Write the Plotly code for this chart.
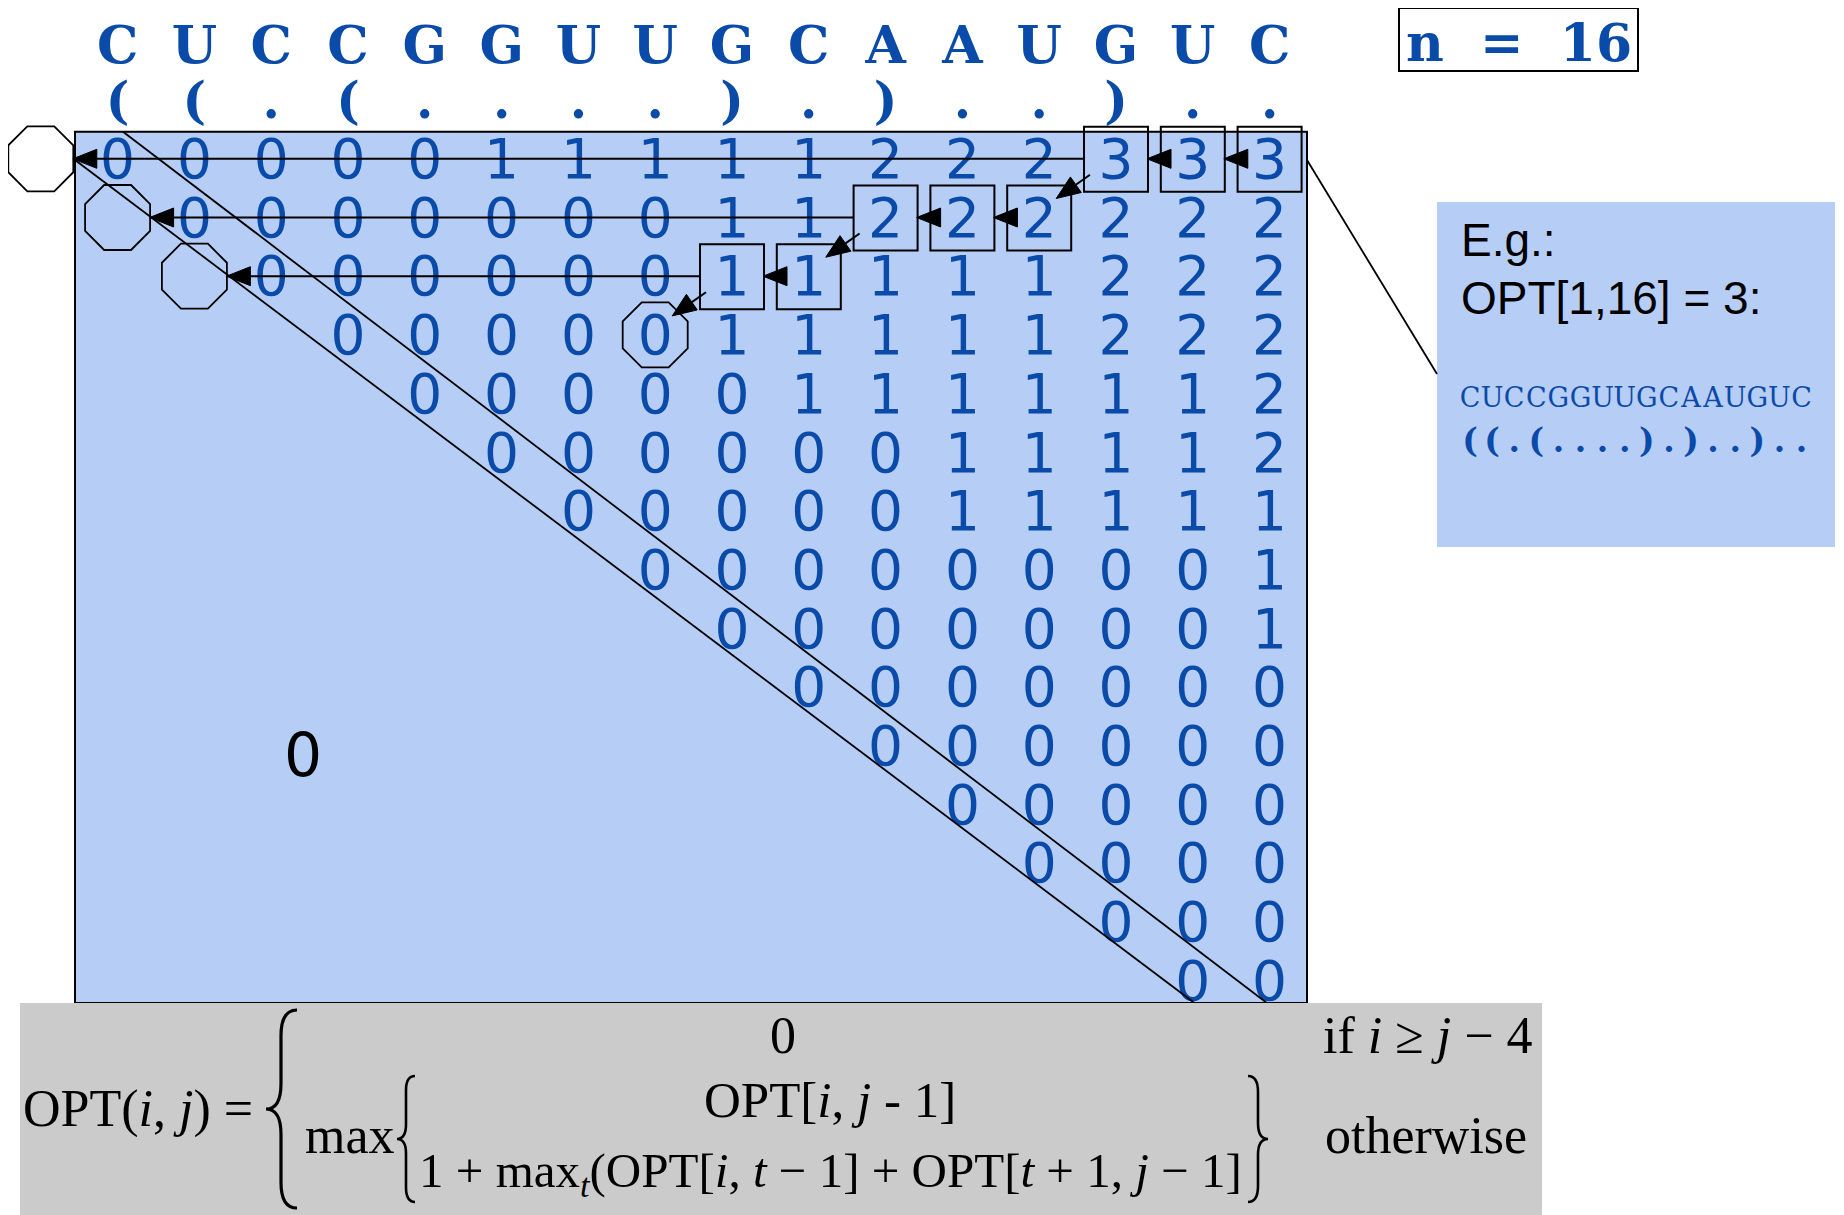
import math
import plotly.graph_objects as go

W, H = 1844, 1215
PAGE_OFFSET = 8  # default body margin of the html page

# ---- data ----
sequence = list("CUCCGGUUGCAAUGUC")
structure = list("((.(....).)..)..")
n_label = "n\u00a0\u00a0=\u00a0\u00a016"

# OPT[i, j] for row i, listed from column j = i up to 16
opt_rows = [
    [0, 0, 0, 0, 0, 1, 1, 1, 1, 1, 2, 2, 2, 3, 3, 3],
    [0, 0, 0, 0, 0, 0, 0, 1, 1, 2, 2, 2, 2, 2, 2],
    [0, 0, 0, 0, 0, 0, 1, 1, 1, 1, 1, 2, 2, 2],
    [0, 0, 0, 0, 0, 1, 1, 1, 1, 1, 2, 2, 2],
    [0, 0, 0, 0, 0, 1, 1, 1, 1, 1, 1, 2],
    [0, 0, 0, 0, 0, 0, 1, 1, 1, 1, 2],
    [0, 0, 0, 0, 0, 1, 1, 1, 1, 1],
    [0, 0, 0, 0, 0, 0, 0, 0, 1],
    [0, 0, 0, 0, 0, 0, 0, 1],
    [0, 0, 0, 0, 0, 0, 0],
    [0, 0, 0, 0, 0, 0],
    [0, 0, 0, 0, 0],
    [0, 0, 0, 0],
    [0, 0, 0],
    [0, 0],
]

# traceback of OPT[1,16]
traceback_cells = [(1, 14), (1, 15), (1, 16), (2, 11), (2, 12), (2, 13), (3, 9), (3, 10)]
empty_cells = [(1, 0), (2, 1), (3, 2), (4, 8)]
step_arrows = [((1, 16), (1, 15)), ((1, 15), (1, 14)), ((2, 13), (2, 12)),
               ((2, 12), (2, 11)), ((3, 10), (3, 9))]
skip_arrows = [((1, 14), (1, 0)), ((2, 11), (2, 1)), ((3, 9), (3, 2))]
pair_arrows = [((1, 14), (2, 13)), ((2, 11), (3, 10)), ((3, 9), (4, 8))]

example_title = ["E.g.:", "OPT[1,16] = 3:"]

BLUE = "#0a4aa8"
LIGHT = "#b6cdf6"
GREY = "#cbcbcb"

# ---- pixel <-> axis helpers (columns / rows are the axis units) ----
X0, DX = 117.6, 76.8
Y0, DY = 158.8, 58.7
TEXT_NUDGE = 5.5 / DY  # scatter text sits a little high of its point


def xd(px):
    return 1 + (px - X0) / DX


def yd(py):
    return 1 + (py - Y0) / DY


def xp(c):
    return X0 + (c - 1) * DX


def yp(r):
    return Y0 + (r - 1) * DY


def path(points, close=True):
    s = "M" + " L".join(f"{xd(x):.4f},{yd(y):.4f}" for x, y in points)
    return s + (" Z" if close else "")


shapes = []


def line(x1, y1, x2, y2, w=2):
    shapes.append(dict(type="line", xref="x", yref="y", x0=xd(x1), y0=yd(y1),
                       x1=xd(x2), y1=yd(y2), line=dict(color="black", width=w),
                       layer="above"))


def arrow(x1, y1, x2, y2, hl=24, hw=9.5):
    L = math.hypot(x2 - x1, y2 - y1)
    ux, uy = (x2 - x1) / L, (y2 - y1) / L
    bx, by = x2 - ux * hl, y2 - uy * hl
    line(x1, y1, bx, by, 2)
    pts = [(x2, y2), (bx - uy * hw, by + ux * hw), (bx + uy * hw, by - ux * hw)]
    shapes.append(dict(type="path", xref="x", yref="y", path=path(pts),
                       fillcolor="black", line=dict(color="black", width=1), layer="above"))


def brace(y0, y1, x_tip, x_stem, x_hook, w=3):
    ym = (y0 + y1) / 2
    r = abs(x_hook - x_stem) * 1.6

    def p(x, y):
        return f"{xd(x):.4f},{yd(y):.4f}"
    d = (f"M{p(x_hook, y0)} Q{p(x_stem, y0)} {p(x_stem, y0 + r)} L{p(x_stem, ym - r)} "
         f"Q{p(x_stem, ym)} {p(x_tip, ym)} Q{p(x_stem, ym)} {p(x_stem, ym + r)} "
         f"L{p(x_stem, y1 - r)} Q{p(x_stem, y1)} {p(x_hook, y1)}")
    shapes.append(dict(type="path", xref="x", yref="y", path=d,
                       line=dict(color="black", width=w), layer="above"))


fig = go.Figure()

# matrix body
shapes.append(dict(type="rect", xref="x", yref="y", x0=xd(75), x1=xd(1307),
                   y0=yd(131.7), y1=yd(1003), fillcolor=LIGHT,
                   line=dict(color="black", width=2), layer="below"))

cx, cy, ct = [], [], []
for i, row in enumerate(opt_rows, start=1):
    for k, v in enumerate(row):
        cx.append(i + k)
        cy.append(i + TEXT_NUDGE)
        ct.append(str(v))
fig.add_trace(go.Scatter(x=cx, y=cy, text=ct, mode="text", hoverinfo="skip",
                         textfont=dict(family="DejaVu Sans", size=55, color=BLUE)))

# sequence and structure header
cols = list(range(1, len(sequence) + 1))
fig.add_trace(go.Scatter(x=cols, y=[yd(50)] * len(cols), text=sequence, mode="text",
                         hoverinfo="skip",
                         textfont=dict(family="DejaVu Serif", size=52, color=BLUE,
                                       weight="bold")))
fig.add_trace(go.Scatter(x=cols, y=[yd(105)] * len(cols), text=structure, mode="text",
                         hoverinfo="skip",
                         textfont=dict(family="DejaVu Serif", size=50, color=BLUE,
                                       weight="bold")))

# diagonals
line(123, 131.7, 123 + (1003 - 131.7) / 0.7617, 1003, 1.8)
line(75, 160, 75 + (1003 - 160) / 0.753, 1003, 1.8)

# traceback boxes and empty-interval octagons
for r, c in traceback_cells:
    shapes.append(dict(type="rect", xref="x", yref="y", x0=xd(xp(c) - 32), x1=xd(xp(c) + 32),
                       y0=yd(yp(r) - 32), y1=yd(yp(r) + 33),
                       line=dict(color="black", width=2), layer="above"))
for r, c in empty_cells:
    w = 32.5
    s = w / (1 + math.sqrt(2))
    x, y = xp(c), yp(r)
    pts = [(x - s, y - w), (x + s, y - w), (x + w, y - s), (x + w, y + s),
           (x + s, y + w), (x - s, y + w), (x - w, y + s), (x - w, y - s)]
    shapes.append(dict(type="path", xref="x", yref="y", path=path(pts),
                       line=dict(color="black", width=1.8), layer="above"))

for (r1, c1), (r2, c2) in step_arrows:
    arrow(xp(c1) - 30, yp(r1), xp(c2) + 31, yp(r2))
for (r1, c1), (r2, c2) in skip_arrows:
    arrow(xp(c1) - 32, yp(r1), xp(c2) + 32, yp(r2))
for (r1, c1), (r2, c2) in pair_arrows:
    arrow(xp(c1) - 26, yp(r1) + 16, xp(c2) + 17, yp(r2) - 19)

# n = 16 box
shapes.append(dict(type="rect", xref="x", yref="y", x0=xd(1399), x1=xd(1638),
                   y0=yd(8), y1=yd(71), line=dict(color="black", width=2), layer="above"))

# example box and leader line
shapes.append(dict(type="rect", xref="x", yref="y", x0=xd(1437), x1=xd(1835),
                   y0=yd(202), y1=yd(547), fillcolor=LIGHT, line=dict(width=0),
                   layer="below"))
line(1307, 160, 1437, 374, 1.8)

ex_x = [xd(1470 + k * 22.1) for k in range(len(sequence))]
fig.add_trace(go.Scatter(x=ex_x, y=[yd(400)] * len(sequence), text=sequence, mode="text",
                         hoverinfo="skip",
                         textfont=dict(family="DejaVu Serif", size=27, color=BLUE)))
fig.add_trace(go.Scatter(x=ex_x, y=[yd(444)] * len(structure), text=structure, mode="text",
                         hoverinfo="skip",
                         textfont=dict(family="DejaVu Serif", size=33, color=BLUE,
                                       weight="bold")))

# recurrence panel
shapes.append(dict(type="rect", xref="x", yref="y", x0=xd(20), x1=xd(1542),
                   y0=yd(1003), y1=yd(1225), fillcolor=GREY, line=dict(width=0),
                   layer="above"))
brace(1010, 1208, 266, 281, 297, 3.2)
brace(1076, 1202, 397, 406, 415, 2.6)
brace(1076, 1202, 1268, 1258, 1248, 2.6)

ann = []


def text(s, x, y, size, family, color="black", xanchor="left", yanchor="middle", weight=None):
    f = dict(family=family, size=size, color=color)
    if weight:
        f["weight"] = weight
    ann.append(dict(text=s, x=xd(x), y=yd(y), xref="x", yref="y", showarrow=False,
                    xanchor=xanchor, yanchor=yanchor, font=f))


text(n_label, 1518.5, 42, 52, "DejaVu Serif", BLUE, "center", weight="bold")
text(example_title[0], 1459, 240, 46, "Liberation Sans")
text(example_title[1], 1459, 298, 46, "Liberation Sans")
text("0", 303, 755, 60, "DejaVu Sans", "black", "center")

FS = 52
SERIF = "Liberation Serif"
asc = 0.891 * FS + 3.5
text("OPT(<i>i</i>, <i>j</i>) =", 21, 1124 - 0.891 * FS, FS, SERIF, yanchor="top")
text("0", 783, 1055 - asc, FS, SERIF, xanchor="center", yanchor="top")
text("if <i>i</i> ≥ <i>j</i> − 4", 1535, 1055 - asc, FS, SERIF, xanchor="right", yanchor="top")
text("max", 303, 1155 - asc, FS, SERIF, yanchor="top")
text("OPT[<i>i</i>, <i>j</i> - 1]", 830, 1120 - asc, 51, SERIF, xanchor="center", yanchor="top")
text("1 + max<sub><i>t</i></sub>(OPT[<i>i</i>, <i>t</i> − 1] + OPT[<i>t</i> + 1, <i>j</i> − 1]",
     417, 1188 - 0.891 * 49 - 3.5, 49, SERIF, yanchor="top")
text("otherwise", 1529, 1155 - asc, FS, SERIF, xanchor="right", yanchor="top")

fig.update_layout(
    width=W, height=H, autosize=False,
    margin=dict(l=0, r=0, t=0, b=0),
    paper_bgcolor="white", plot_bgcolor="white",
    showlegend=False,
    # the page puts the figure 8px in from the top-left corner
    xaxis=dict(range=[xd(PAGE_OFFSET), xd(W + PAGE_OFFSET)], visible=False, fixedrange=True),
    yaxis=dict(range=[yd(H + PAGE_OFFSET), yd(PAGE_OFFSET)], visible=False, fixedrange=True),
    shapes=shapes,
    annotations=ann,
)

fig.write_html("out.html", config={"displayModeBar": False})
